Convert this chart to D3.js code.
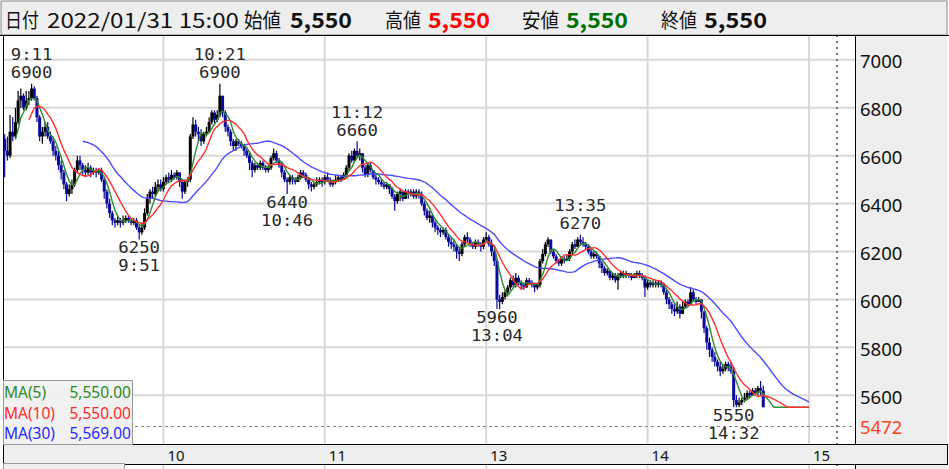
<!DOCTYPE html>
<html><head><meta charset="utf-8">
<script src="https://cdn.jsdelivr.net/npm/d3@7"></script>
<style>body{margin:0;background:#fff;} svg{display:block;}</style>
</head><body>
<svg id="c" width="949" height="469"></svg>
<script>
// ---- DATA (1-minute bars, index 1 = 9:01, lunch break collapsed; 300 = 15:00) ----
const startMinute = 1;
const firstOpen = 6670;
const closeP = [
6620,6600,6700,6680,6740,6830,6850,6800,6830,6840,
6880,6840,6760,6680,6700,6720,6680,6660,6620,6600,
6560,6530,6480,6440,6460,6480,6540,6580,6560,6540,
6530,6550,6530,6540,6530,6540,6500,6450,6400,6360,
6330,6320,6330,6320,6330,6340,6330,6320,6330,6300,
6280,6300,6360,6420,6450,6440,6470,6480,6460,6490,
6510,6500,6520,6510,6530,6490,6450,6490,6500,6680,
6730,6700,6690,6660,6690,6700,6740,6780,6750,6770,
6850,6780,6720,6700,6660,6640,6660,6650,6640,6620,
6600,6570,6540,6560,6550,6570,6550,6540,6550,6590,
6610,6580,6560,6530,6500,6490,6510,6500,6490,6510,
6530,6520,6500,6480,6470,6480,6490,6500,6490,6510,
6500,6480,6490,6500,6510,6500,6520,6550,6600,6580,
6620,6600,6610,6550,6520,6560,6540,6510,6500,6490,
6480,6470,6480,6460,6430,6410,6440,6450,6420,6450,
6440,6450,6430,6450,6440,6400,6370,6340,6350,6320,
6300,6290,6280,6290,6260,6240,6230,6220,6200,6190,
6230,6260,6250,6230,6220,6240,6230,6220,6250,6260,
6230,6200,6160,6000,5990,6010,6030,6050,6080,6060,
6090,6070,6060,6050,6080,6070,6060,6050,6060,6160,
6190,6230,6250,6200,6180,6160,6150,6170,6160,6170,
6200,6230,6220,6250,6240,6230,6220,6200,6180,6190,
6180,6150,6130,6110,6120,6090,6100,6080,6100,6110,
6100,6110,6100,6090,6100,6110,6100,6090,6050,6070,
6060,6070,6060,6070,6060,6030,6000,5980,5960,5950,
5970,5940,5970,5990,5980,6030,6000,5990,6000,5950,
5880,5820,5790,5760,5740,5720,5700,5710,5730,5720,
5700,5580,5560,5570,5580,5590,5610,5600,5620,5610,
5630,5620,5550,5550,5550,5550,5550,5550,5550,5550,
5550,5550,5550,5550,5550,5550,5550,5550,5550,5550];
const highP = [
6690,6680,6770,6760,6800,6870,6880,6860,6870,6870,
6900,6890,6850,6770,6720,6740,6740,6700,6680,6640,
6620,6580,6540,6490,6480,6500,6550,6600,6600,6570,
6560,6570,6560,6550,6550,6550,6550,6510,6460,6420,
6370,6340,6350,6340,6350,6350,6350,6340,6340,6340,
6310,6320,6380,6440,6460,6470,6490,6500,6500,6510,
6520,6530,6540,6530,6540,6530,6500,6500,6510,6690,
6760,6750,6720,6710,6700,6720,6760,6790,6790,6790,
6900,6850,6790,6730,6710,6670,6670,6670,6660,6650,
6630,6610,6580,6570,6570,6580,6580,6560,6560,6600,
6630,6620,6590,6570,6540,6510,6520,6520,6510,6520,
6540,6540,6530,6510,6490,6490,6510,6510,6510,6520,
6530,6510,6500,6520,6520,6520,6530,6560,6610,6620,
6630,6660,6630,6610,6560,6570,6570,6540,6520,6510,
6500,6490,6490,6480,6470,6440,6450,6460,6450,6460,
6460,6460,6460,6460,6460,6450,6410,6380,6370,6360,
6330,6310,6300,6300,6300,6270,6260,6250,6230,6220,
6240,6270,6280,6260,6240,6250,6250,6240,6260,6280,
6270,6250,6210,6170,6020,6030,6040,6060,6090,6100,
6110,6100,6080,6070,6090,6090,6080,6070,6070,6170,
6210,6240,6260,6250,6210,6190,6170,6180,6180,6190,
6210,6240,6250,6260,6270,6260,6240,6230,6210,6200,
6200,6180,6160,6140,6130,6120,6110,6110,6110,6120,
6120,6120,6110,6110,6110,6120,6120,6110,6100,6080,
6080,6080,6080,6080,6080,6070,6040,6010,5990,5980,
5990,5980,5990,6000,6000,6050,6040,6010,6010,6000,
5950,5890,5840,5800,5780,5750,5740,5730,5740,5740,
5740,5720,5600,5590,5590,5610,5620,5620,5630,5630,
5640,5660,5640,5550,5550,5550,5550,5550,5550,5550,
5550,5550,5550,5550,5550,5550,5550,5550,5550,5550];
const lowP = [
6510,6580,6590,6660,6670,6730,6800,6790,6790,6810,
6830,6830,6740,6660,6650,6680,6670,6650,6600,6580,
6540,6500,6460,6410,6430,6440,6470,6530,6540,6520,
6510,6520,6510,6520,6510,6520,6490,6420,6380,6340,
6310,6300,6310,6300,6310,6320,6320,6310,6310,6290,
6250,6270,6290,6350,6400,6420,6430,6450,6450,6450,
6480,6490,6490,6500,6500,6470,6420,6440,6470,6490,
6670,6680,6660,6640,6650,6680,6700,6730,6730,6740,
6760,6760,6700,6680,6640,6620,6620,6640,6630,6600,
6590,6540,6510,6530,6540,6540,6540,6530,6530,6540,
6580,6570,6550,6510,6490,6440,6480,6480,6480,6490,
6500,6510,6490,6460,6450,6460,6470,6480,6470,6480,
6490,6470,6470,6480,6490,6490,6500,6510,6540,6570,
6570,6590,6580,6530,6510,6510,6530,6500,6480,6480,
6470,6460,6460,6440,6420,6370,6400,6410,6410,6420,
6420,6430,6420,6420,6420,6390,6350,6330,6320,6300,
6280,6270,6260,6270,6250,6220,6210,6200,6170,6160,
6180,6220,6240,6220,6210,6210,6220,6200,6210,6240,
6220,6180,6140,5960,5960,5980,6000,6020,6040,6050,
6050,6060,6040,6040,6050,6060,6050,6030,6040,6050,
6150,6180,6220,6190,6170,6150,6140,6140,6150,6160,
6160,6190,6210,6220,6230,6220,6210,6190,6170,6170,
6170,6130,6110,6100,6100,6080,6080,6070,6040,6090,
6090,6090,6090,6080,6090,6090,6090,6080,6010,6040,
6050,6050,6050,6050,6050,6020,5980,5960,5940,5930,
5940,5920,5940,5960,5970,5980,5990,5980,5990,5920,
5860,5790,5760,5740,5720,5700,5680,5690,5700,5700,
5690,5550,5550,5550,5560,5570,5580,5590,5600,5600,
5600,5600,5550,5550,5550,5550,5550,5550,5550,5550,
5550,5550,5550,5550,5550,5550,5550,5550,5550,5550];

const yTicks = [5600, 5800, 6000, 6200, 6400, 6600, 6800, 7000];
const xTickMinutes = [60, 120, 180, 240, 300];
const xTickLabels = ["10", "11", "13", "14", "15"];
const refPrice = 5472;
const maPeriods = [5, 10, 30];
const maColors = ["#2e8b2e", "#ff3030", "#4a4aff"];
const maLegendLabels = ["MA(5)", "MA(10)", "MA(30)"];
const maLegendValues = ["5,550.00", "5,550.00", "5,569.00"];
const maLegendColors = ["#2a8a2a", "#ff2a2a", "#2a2aff"];
const annotations = [
  {t: 11,  price: 6900, time: "9:11",  side: "high"},
  {t: 51,  price: 6250, time: "9:51",  side: "low"},
  {t: 81,  price: 6900, time: "10:21", side: "high"},
  {t: 106, price: 6440, time: "10:46", side: "low"},
  {t: 132, price: 6660, time: "11:12", side: "high"},
  {t: 184, price: 5960, time: "13:04", side: "low"},
  {t: 215, price: 6270, time: "13:35", side: "high"},
  {t: 272, price: 5550, time: "14:32", side: "low"}
];
const headerItems = [
  {text: "日付", x: 5, w: 34, color: "#111", bold: false},
  {text: "2022/01/31 15:00", x: 47, w: 192, color: "#111", bold: false},
  {text: "始値", x: 244, w: 37, color: "#111", bold: false},
  {text: "5,550", x: 290, w: 62, color: "#111", bold: true},
  {text: "高値", x: 385, w: 36, color: "#111", bold: false},
  {text: "5,550", x: 428, w: 62, color: "#ff0000", bold: true},
  {text: "安値", x: 522, w: 37, color: "#111", bold: false},
  {text: "5,550", x: 566, w: 62, color: "#007000", bold: true},
  {text: "終値", x: 661, w: 36, color: "#111", bold: false},
  {text: "5,550", x: 704, w: 63, color: "#111", bold: true}
];

// ---- LAYOUT ----
const W = 949, H = 469;
const plotL = 3, plotR = 855, plotT = 35, plotB = 444;
const svg = d3.select("#c");

const x = d3.scaleLinear().domain([0, 300]).range([2, 809]);
const y = d3.scaleLinear().domain([5600, 7000]).range([395.3, 59.8]);

// backgrounds
svg.append("rect").attr("x",0).attr("y",0).attr("width",W).attr("height",H).attr("fill","#fff");
svg.append("rect").attr("x",1).attr("y",1).attr("width",946).attr("height",34)
  .attr("fill","#eeeeee").attr("stroke","#888").attr("stroke-width",1);
svg.append("rect").attr("x",plotR).attr("y",plotT).attr("width",W-plotR-2).attr("height",plotB-plotT).attr("fill","#eeeeee");
svg.append("rect").attr("x",plotR).attr("y",464).attr("width",W-plotR-2).attr("height",10).attr("fill","#eeeeee");

// header texts
headerItems.forEach(h => {
  svg.append("text").attr("x", h.x).attr("y", 19)
    .attr("dominant-baseline","central")
    .attr("font-family", "'Noto Sans CJK JP', 'Noto Sans', sans-serif")
    .attr("font-size", h.bold ? 21 : 20)
    .attr("font-weight", h.bold ? 700 : 400)
    .attr("fill", h.color)
    .attr("textLength", h.w).attr("lengthAdjust","spacingAndGlyphs")
    .text(h.text);
});

// gridlines
const grid = svg.append("g");
yTicks.forEach(v => {
  grid.append("line").attr("x1",plotL).attr("x2",plotR).attr("y1",y(v)).attr("y2",y(v))
    .attr("stroke","#d8d8d8").attr("stroke-width",2);
});
xTickMinutes.forEach(m => {
  grid.append("line").attr("x1",x(m)).attr("x2",x(m)).attr("y1",plotT).attr("y2",plotB)
    .attr("stroke","#d8d8d8").attr("stroke-width",2);
  grid.append("line").attr("x1",x(m)).attr("x2",x(m)).attr("y1",464).attr("y2",H)
    .attr("stroke","#d8d8d8").attr("stroke-width",2);
});

// reference dashed line & dotted vertical
svg.append("line").attr("x1",plotL).attr("x2",plotR).attr("y1",Math.round(y(refPrice))+0.5).attr("y2",Math.round(y(refPrice))+0.5)
  .attr("stroke","#888").attr("stroke-width",1).attr("stroke-dasharray","3,3");
svg.append("line").attr("x1",837).attr("x2",837).attr("y1",plotT).attr("y2",plotB)
  .attr("stroke","#777").attr("stroke-width",2).attr("stroke-dasharray","2,4");
svg.append("line").attr("x1",837).attr("x2",837).attr("y1",464).attr("y2",H)
  .attr("stroke","#777").attr("stroke-width",2).attr("stroke-dasharray","2,4");

// clip
svg.append("clipPath").attr("id","clip").append("rect")
  .attr("x",plotL).attr("y",plotT).attr("width",plotR-plotL).attr("height",plotB-plotT);
const plot = svg.append("g").attr("clip-path","url(#clip)");

// candles
const bars = closeP.map((c, i) => ({
  t: startMinute + i,
  o: i === 0 ? firstOpen : closeP[i-1],
  h: highP[i], l: lowP[i], c: c
}));
const cg = plot.append("g");
bars.forEach(b => {
  if (b.h === b.l && b.o === b.c) return; // no price movement
  const col = b.c >= b.o ? "#000000" : "#0a0a9c";
  const cx = x(b.t);
  cg.append("line").attr("x1",cx).attr("x2",cx).attr("y1",y(b.h)).attr("y2",y(b.l))
    .attr("stroke",col).attr("stroke-width",1.2);
  const top = y(Math.max(b.o,b.c)), bot = y(Math.min(b.o,b.c));
  cg.append("rect").attr("x",cx-1.5).attr("y",top).attr("width",3).attr("height",Math.max(1.5,bot-top))
    .attr("fill",col);
});

// moving averages (computed from closes)
function movingAvg(n){
  return closeP.map((c,i) => i < n-1 ? null : d3.mean(closeP.slice(i-n+1, i+1)));
}
const drawOrder = [2, 0, 1];
drawOrder.forEach(k => {
  const vals = movingAvg(maPeriods[k]);
  const line = d3.line().defined(d => d.v !== null).x(d => x(d.t)).y(d => y(d.v));
  plot.append("path").datum(vals.map((v,i) => ({t: startMinute+i, v})))
    .attr("d", line).attr("fill","none").attr("stroke",maColors[k]).attr("stroke-width",1.4);
});

// annotations
annotations.forEach(a => {
  const yy = y(a.price);
  const lines = a.side === "high"
    ? [{s: a.time, dy: -28.5}, {s: String(a.price), dy: -10.5}]
    : [{s: String(a.price), dy: 8.5}, {s: a.time, dy: 26.5}];
  lines.forEach(L => {
    svg.append("text").attr("x", x(a.t)).attr("y", yy + L.dy)
      .attr("text-anchor","middle").attr("dominant-baseline","central")
      .attr("font-family","'DejaVu Sans Mono', monospace").attr("font-size",15.5)
      .attr("textLength", L.s.length * 10.4).attr("lengthAdjust","spacingAndGlyphs")
      .attr("fill","#2a2a2a").text(L.s);
  });
});

// frame lines
svg.append("line").attr("x1",plotL+0.5).attr("x2",plotL+0.5).attr("y1",plotT).attr("y2",H).attr("stroke","#000");
svg.append("line").attr("x1",plotR+0.5).attr("x2",plotR+0.5).attr("y1",plotT).attr("y2",plotB).attr("stroke","#000");
svg.append("line").attr("x1",plotR+0.5).attr("x2",plotR+0.5).attr("y1",464).attr("y2",H).attr("stroke","#000");
svg.append("line").attr("x1",0).attr("x2",W).attr("y1",plotT+0.5).attr("y2",plotT+0.5).attr("stroke","#000");

// right axis labels
yTicks.forEach(v => {
  svg.append("text").attr("x",860).attr("y",y(v)+1).attr("dominant-baseline","central")
    .attr("font-family","'Noto Sans', sans-serif").attr("font-size",18.5).attr("fill","#111").text(v);
});
svg.append("text").attr("x",860).attr("y",y(refPrice)+1).attr("dominant-baseline","central")
  .attr("font-family","'Noto Sans', sans-serif").attr("font-size",18.5).attr("fill","#ff4422").text(refPrice);

// x axis band
svg.append("rect").attr("x",plotL+0.5).attr("y",plotB+0.5).attr("width",944).attr("height",20)
  .attr("fill","#eeeeee").attr("stroke","#000").attr("stroke-width",1);
xTickMinutes.forEach((m,i) => {
  svg.append("text").attr("x",x(m)+4).attr("y",454.5).attr("dominant-baseline","central")
    .attr("font-family","'Noto Sans', sans-serif").attr("font-size",15).attr("fill","#111").text(xTickLabels[i]);
});

// MA legend
const lg = svg.append("g");
lg.append("rect").attr("x",3.5).attr("y",380.5).attr("width",129).attr("height",64)
  .attr("fill","#f0f0f0").attr("fill-opacity",0.92).attr("stroke","#999");
maLegendLabels.forEach((s,i) => {
  const yy = 392 + i*20.7;
  lg.append("text").attr("x",4).attr("y",yy).attr("dominant-baseline","central")
    .attr("font-family","'Noto Sans', sans-serif").attr("font-size",15.5).attr("fill",maLegendColors[i]).text(s);
  lg.append("text").attr("x",131).attr("y",yy).attr("text-anchor","end").attr("dominant-baseline","central")
    .attr("font-family","'Noto Sans', sans-serif").attr("font-size",15.5).attr("fill",maLegendColors[i]).text(maLegendValues[i]);
});

// RSI legend (cut off at bottom, as in the reference)
svg.append("rect").attr("x",3.5).attr("y",463.5).attr("width",121).attr("height",20)
  .attr("fill","#f0f0f0").attr("stroke","#999");
svg.append("text").attr("x",4).attr("y",476).attr("dominant-baseline","central")
  .attr("font-family","'Noto Sans', sans-serif").attr("font-size",15.5).attr("fill","#2a2aff").text("RSI(14)");
svg.append("text").attr("x",122).attr("y",476).attr("text-anchor","end").attr("dominant-baseline","central")
  .attr("font-family","'Noto Sans', sans-serif").attr("font-size",15.5).attr("fill","#2a2aff").text("50.00");
</script>
</body></html>
